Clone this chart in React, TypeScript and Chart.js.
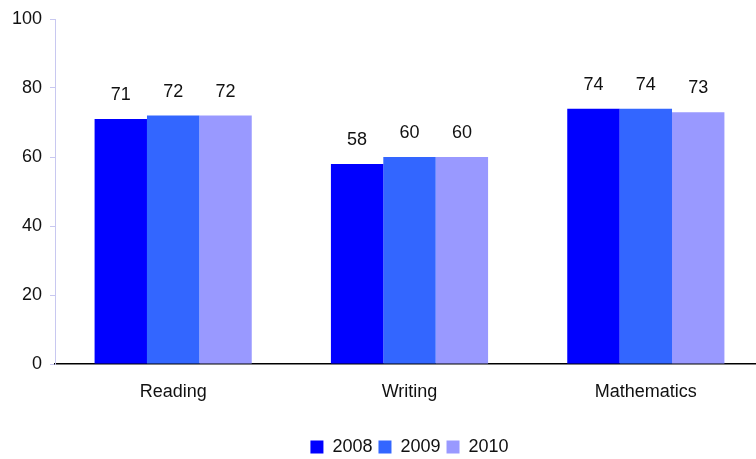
import React, { useEffect, useRef } from "react";
import { Chart, registerables } from "chart.js";

Chart.register(...registerables);

const categories = ["Reading", "Writing", "Mathematics"];
const seriesNames = ["2008", "2009", "2010"];
const values2008 = [71, 58, 74];
const values2009 = [72, 60, 74];
const values2010 = [72, 60, 73];
const yTicks = [0, 20, 40, 60, 80, 100];

const colors = ["#0000FF", "#3366FF", "#9999FF"];
const FONT = "'Liberation Sans', Arial, sans-serif";
const CANVAS_W = 764;
const CANVAS_H = 466;

const labelPlugin = {
  id: "valueLabels",
  afterDatasetsDraw(chart: any) {
    const ctx = chart.ctx;
    ctx.save();
    ctx.font = `18px ${FONT}`;
    ctx.fillStyle = "#111111";
    ctx.textAlign = "center";
    ctx.textBaseline = "middle";
    chart.data.datasets.forEach((ds: any, i: number) => {
      const meta = chart.getDatasetMeta(i);
      meta.data.forEach((bar: any, j: number) => {
        ctx.fillText(String(ds.data[j]), bar.x, bar.y - 24);
      });
    });
    ctx.restore();
  },
};

const legendShift = {
  id: "legendShift",
  afterLayout(chart: any) {
    const lg = chart.legend;
    if (lg) {
      const ca = chart.chartArea;
      const target = (ca.left + ca.right) / 2;
      const cur = (lg.left + lg.right) / 2;
      const d = target - cur;
      lg.left += d;
      lg.right += d;
    }
  },
};

export default function App() {
  const ref = useRef<HTMLCanvasElement>(null);
  useEffect(() => {
    document.body.style.overflow = "hidden";
    const chart = new Chart(ref.current!, {
      type: "bar",
      data: {
        labels: categories,
        datasets: [values2008, values2009, values2010].map((d, i) => ({
          label: seriesNames[i],
          data: d,
          backgroundColor: colors[i],
          borderWidth: 0,
          categoryPercentage: 0.665,
          barPercentage: 1.0,
        })),
      },
      options: {
        animation: false,
        responsive: false,
        maintainAspectRatio: false,
        layout: { padding: { top: 19, right: 0, left: 0, bottom: 0 } },
        plugins: {
          legend: {
            position: "bottom",
            labels: {
              boxWidth: 13,
              boxHeight: 13,
              color: "#111",
              font: { size: 18, family: FONT },
              padding: 6,
            },
          },
          tooltip: { enabled: false },
        },
        scales: {
          x: {
            grid: { display: false },
            border: { color: "#000", width: 1.5 },
            ticks: { color: "#111", font: { size: 18, family: FONT }, padding: 9 },
            afterFit: (s: any) => {
              s.height = 68;
            },
          },
          y: {
            min: 0,
            max: 100,
            afterBuildTicks: (s: any) => {
              s.ticks = yTicks.map((v) => ({ value: v }));
            },
            grid: {
              drawOnChartArea: false,
              drawTicks: true,
              tickLength: 5,
              color: "#C8C8F0",
            },
            border: { color: "#C8C8F0", dash: [5, 4], width: 1 },
            ticks: { color: "#111", font: { size: 18, family: FONT }, padding: 8 },
            afterFit: (s: any) => {
              s.width = 55;
            },
          },
        },
      },
      plugins: [labelPlugin, legendShift],
    });
    return () => chart.destroy();
  }, []);
  return (
    <div style={{ position: "fixed", left: 0, top: 0, width: CANVAS_W, height: CANVAS_H, background: "#fff" }}>
      <canvas ref={ref} width={CANVAS_W} height={CANVAS_H} />
    </div>
  );
}
